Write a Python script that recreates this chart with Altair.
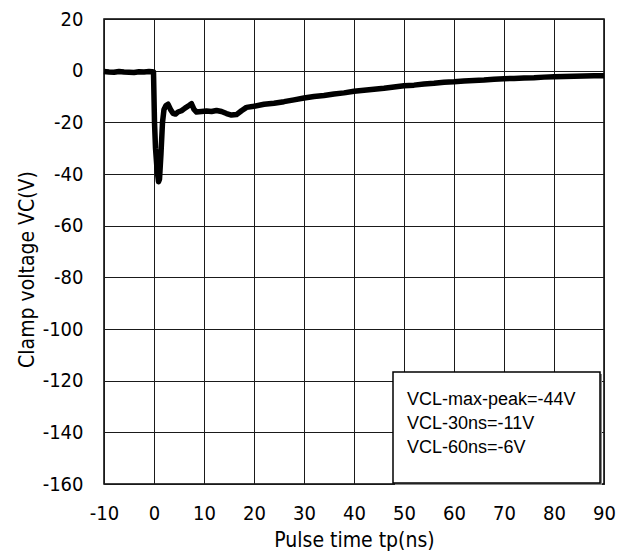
import altair as alt
import pandas as pd

# Pulse time (ns) and clamp voltage (V)
time_ns = [-10, -9, -8, -7, -6, -5, -4, -3, -2, -1, -0.4, -0.1,
           0.1, 0.3, 0.6, 0.9, 1.1, 1.4, 1.7, 2.0, 2.4, 2.8, 3.3, 3.8, 4.3, 4.8,
           5.5, 6.2, 7.0, 7.5, 8.0, 8.5, 9.5, 10.5, 11.5, 12.5, 13.5, 14.5, 15.5,
           16.5, 17.5, 18.5, 20, 22, 24, 26, 28, 30, 32, 34, 36, 38, 40, 42, 44,
           46, 48, 50, 52, 54, 56, 58, 60, 62, 64, 66, 68, 70, 72, 74, 76, 78, 80,
           82, 84, 86, 88, 90]
voltage_v = [-0.3, -0.5, -0.6, -0.3, -0.5, -0.6, -0.7, -0.4, -0.5, -0.3, -0.4, -0.5,
             -20, -30, -38, -43, -42, -32, -20, -15, -13.5, -13, -15, -16.5, -16.8, -16,
             -15.5, -14.5, -13.5, -12.8, -15, -16, -15.8, -15.6, -15.8, -15.4, -15.8, -16.6, -17.2,
             -17.0, -15.5, -14.2, -13.8, -13.0, -12.6, -12.0, -11.3, -10.6, -10.0, -9.6, -9.0, -8.6, -8.0, -7.6, -7.2,
             -6.8, -6.3, -5.8, -5.6, -5.2, -4.9, -4.5, -4.3, -4.0, -3.8, -3.6, -3.3, -3.1, -3.0, -2.8, -2.7, -2.5, -2.4,
             -2.3, -2.2, -2.1, -2.0, -2.0]

x_ticks = [-10, 0, 10, 20, 30, 40, 50, 60, 70, 80, 90]
y_ticks = [20, 0, -20, -40, -60, -80, -100, -120, -140, -160]

note_lines = ["VCL-max-peak=-44V", "VCL-30ns=-11V", "VCL-60ns=-6V"]

df = pd.DataFrame({"t": time_ns, "v": voltage_v})

FONT = "DejaVu Sans Condensed, DejaVu Sans"

line = alt.Chart(df).mark_line(color="black", strokeWidth=5.5, strokeJoin="round").encode(
    x=alt.X("t:Q", scale=alt.Scale(domain=[-10, 90], nice=False),
            axis=alt.Axis(values=x_ticks, title="Pulse time tp(ns)", ticks=False,
                          labelPadding=19, labelFlush=False,
                          labelExpr="toString(datum.value)",
                          titleBaseline="alphabetic", titleY=62)),
    y=alt.Y("v:Q", scale=alt.Scale(domain=[-160, 20], nice=False),
            axis=alt.Axis(values=y_ticks, title="Clamp voltage VC(V)", ticks=False,
                          labelPadding=21, labelFlush=False,
                          labelExpr="toString(datum.value)",
                          titleBaseline="alphabetic", titleX=-71, titleY=250,
                          titleAngle=270, titleAlign="center")),
)

shadow = alt.Chart().mark_rect(fill="#888888").encode(
    x=alt.value(291), x2=alt.value(498), y=alt.value(355), y2=alt.value(466)
)
box = alt.Chart().mark_rect(fill="white", stroke="black", strokeWidth=1.5).encode(
    x=alt.value(289), x2=alt.value(496), y=alt.value(353), y2=alt.value(464)
)
note = alt.Chart().mark_text(
    text=note_lines, align="left", baseline="middle", lineHeight=24,
    font="Liberation Sans", fontSize=18, color="black"
).encode(x=alt.value(303), y=alt.value(381))

chart = alt.layer(line, shadow, box, note).properties(
    width=500, height=465,
    autosize=alt.AutoSizeParams(type="none"),
    padding={"left": 96, "top": 11, "right": 16, "bottom": 68},
    background="white",
).configure_view(stroke="black", strokeWidth=1.5).configure_axis(
    grid=True, gridColor="#1a1a1a", gridWidth=1, gridOpacity=1, domain=False,
    labelFont=FONT, labelFontSize=20, labelColor="black",
    titleFont=FONT, titleFontSize=21, titleColor="black", titleFontWeight="normal",
)

chart.save("out.html", embed_options={"renderer": "svg", "actions": False})
